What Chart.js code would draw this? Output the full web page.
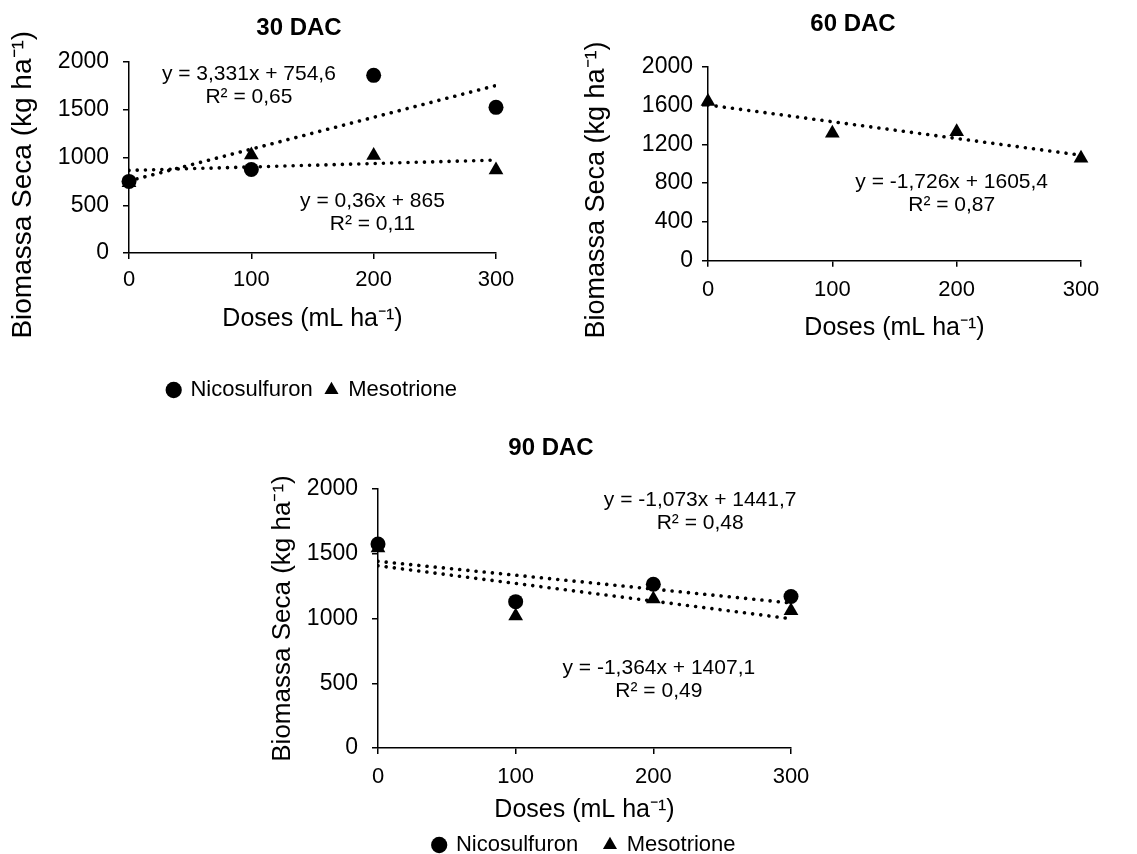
<!DOCTYPE html>
<html>
<head>
<meta charset="utf-8">
<script src="https://cdn.jsdelivr.net/npm/chart.js@4.4.0/dist/chart.umd.min.js"></script>
<style>
  html, body { margin: 0; padding: 0; background: #fff; overflow: hidden; }
  body { width: 1137px; height: 854px; position: relative; }
  .panel { position: absolute; }
</style>
</head>
<body>
<div class="panel" style="left:0;top:0;width:598px;height:411px"><canvas id="c30"></canvas></div>
<div class="panel" style="left:580px;top:0;width:546px;height:343px"><canvas id="c60"></canvas></div>
<div class="panel" style="left:265px;top:410px;width:572px;height:456px"><canvas id="c90"></canvas></div>
<script>
// doses on the x axis (mL ha-1)
const doses = [0, 100, 200, 300];
const trendX = [0, 300];

// 30 DAC
const nico30 = [750, 875, 1860, 1525];
const meso30 = [735, 1025, 1020, 870];
const nico30Trend = [754.6, 1753.9];
const meso30Trend = [865, 973];
const eq30 = [["y = 3,331x + 754,6", "R² = 0,65"], ["y = 0,36x + 865", "R² = 0,11"]];

// 60 DAC
const meso60 = [1640, 1315, 1330, 1055];
const meso60Trend = [1605.4, 1087.6];
const eq60 = [["y = -1,726x + 1605,4", "R² = 0,87"]];

// 90 DAC
const nico90 = [1575, 1130, 1265, 1170];
const meso90 = [1545, 1020, 1150, 1060];
const nico90Trend = [1441.7, 1119.8];
const meso90Trend = [1407.1, 997.9];
const eq90 = [["y = -1,073x + 1441,7", "R² = 0,48"], ["y = -1,364x + 1407,1", "R² = 0,49"]];

const xTitle = 'Doses (mL ha⁻¹)';
const yTitle = 'Biomassa Seca (kg ha⁻¹)';

Chart.defaults.font.family = "'Liberation Sans', Arial, sans-serif";
Chart.defaults.color = '#000';

const toPts = (xs, ys) => xs.map((x, i) => ({x: x, y: ys[i]}));

// draws the regression equations next to the lines
const eqPlugin = {
    id: 'eqText',
    afterDatasetsDraw(chart, args, opts) {
        const ctx = chart.ctx;
        const sx = chart.scales.x, sy = chart.scales.y;
        ctx.save();
        ctx.fillStyle = '#000';
        ctx.font = "21px 'Liberation Sans', Arial, sans-serif";
        ctx.textAlign = 'center';
        ctx.textBaseline = 'middle';
        (opts.items || []).forEach(it => {
            const px = sx.getPixelForValue(it.x);
            const py = sy.getPixelForValue(it.y);
            it.lines.forEach((t, i) => ctx.fillText(t, px, py + i * 23));
        });
        ctx.restore();
    }
};

function markers(label, ys, style) {
    return {
        label: label,
        data: toPts(doses, ys),
        pointStyle: style,
        pointRadius: style === 'triangle' ? 8.5 : 7.5,
        pointHoverRadius: style === 'triangle' ? 8.5 : 7.5,
        backgroundColor: '#000',
        borderColor: '#000',
        borderWidth: 0,
        showLine: false,
        clip: false
    };
}

function trend(label, ys) {
    return {
        label: 'Linear (' + label + ')',
        data: toPts(trendX, ys),
        showLine: true,
        pointRadius: 0,
        borderColor: '#000',
        borderWidth: 3.6,
        borderDash: [0.01, 8.2],
        borderCapStyle: 'round',
        fill: false
    };
}

function axisGrid() {
    return {drawOnChartArea: false, drawTicks: true, tickLength: 6, color: '#000', lineWidth: 1.5};
}

function makePanel(id, p) {
    const ctx = document.getElementById(id).getContext('2d');
    new Chart(ctx, {
        type: 'scatter',
        data: {datasets: p.datasets},
        plugins: [eqPlugin],
        options: {
            responsive: true,
            maintainAspectRatio: false,
            animation: false,
            events: [],
            layout: {padding: 0},
            scales: {
                x: {
                    type: 'linear',
                    min: 0, max: 300,
                    ticks: {stepSize: 100, padding: p.xTickPad, maxRotation: 0, font: {size: 22}, callback: v => String(v)},
                    grid: axisGrid(),
                    border: {display: true, color: '#000', width: 1.5},
                    title: {display: true, text: xTitle, font: {size: 25}, padding: {top: 0, bottom: p.xTitlePad}},
                    afterFit(s) { s.height = p.xHeight; }
                },
                y: {
                    min: 0, max: 2000,
                    ticks: {stepSize: p.yStep, padding: p.yTickPad, font: {size: 23}, callback: v => String(v)},
                    grid: axisGrid(),
                    border: {display: true, color: '#000', width: 1.5},
                    title: {display: true, text: yTitle + ' '.repeat(p.ySpaces), font: {size: p.yTitleSize}, padding: {top: p.yTitlePad, bottom: 0}},
                    afterFit(s) { s.width = p.yWidth; }
                },
                pad: {
                    axis: 'y',
                    position: 'right',
                    grid: {display: false},
                    border: {display: false},
                    ticks: {display: false},
                    afterFit(s) { s.width = p.rightWidth; }
                }
            },
            plugins: {
                title: {
                    display: true,
                    text: p.title,
                    color: '#000',
                    font: {size: 24, weight: 'bold'},
                    padding: {top: p.titleTop, bottom: p.titleBottom}
                },
                legend: {
                    display: p.legend,
                    position: 'bottom',
                    fullSize: false,
                    labels: {
                        usePointStyle: true,
                        boxWidth: 11.5,
                        boxHeight: 11.5,
                        padding: p.legendPad,
                        color: '#000',
                        font: {size: 22},
                        filter: item => !item.text.startsWith('Linear')
                    }
                },
                tooltip: {enabled: false},
                eqText: {items: p.eqs}
            }
        }
    });
}

makePanel('c30', {
    title: '30 DAC',
    datasets: [
        markers('Nicosulfuron', nico30, 'circle'),
        markers('Mesotrione', meso30, 'triangle'),
        trend('Nicosulfuron', nico30Trend),
        trend('Mesotrione', meso30Trend)
    ],
    eqs: [
        {x: 98, y: 1873, lines: eq30[0]},
        {x: 199, y: 540, lines: eq30[1]}
    ],
    yStep: 500,
    titleTop: 13.6, titleBottom: 19.6,
    xTickPad: 7.8, xHeight: 113, xTitlePad: 32,
    yTickPad: 14, yWidth: 129, yTitlePad: 6.2, yTitleSize: 28, ySpaces: 7,
    rightWidth: 102,
    legend: true, legendPad: 13
});

makePanel('c60', {
    title: '60 DAC',
    datasets: [
        markers('Mesotrione', meso60, 'triangle'),
        trend('Mesotrione', meso60Trend)
    ],
    eqs: [
        {x: 196, y: 812, lines: eq60[0]}
    ],
    yStep: 400,
    titleTop: 9.6, titleBottom: 28.3,
    xTickPad: 10, xHeight: 82.3, xTitlePad: 0,
    yTickPad: 9, yWidth: 128, yTitlePad: 0.8, yTitleSize: 27, ySpaces: 7,
    rightWidth: 45,
    legend: false, legendPad: 10
});

makePanel('c90', {
    title: '90 DAC',
    datasets: [
        markers('Nicosulfuron', nico90, 'circle'),
        markers('Mesotrione', meso90, 'triangle'),
        trend('Nicosulfuron', nico90Trend),
        trend('Mesotrione', meso90Trend)
    ],
    eqs: [
        {x: 234, y: 1914, lines: eq90[0]},
        {x: 204, y: 615, lines: eq90[1]}
    ],
    yStep: 500,
    titleTop: 23.6, titleBottom: 26.6,
    xTickPad: 9.8, xHeight: 60, xTitlePad: -17,
    yTickPad: 14, yWidth: 113, yTitlePad: 2.4, yTitleSize: 26, ySpaces: 0,
    rightWidth: 46,
    legend: true, legendPad: 26
});
</script>
</body>
</html>
